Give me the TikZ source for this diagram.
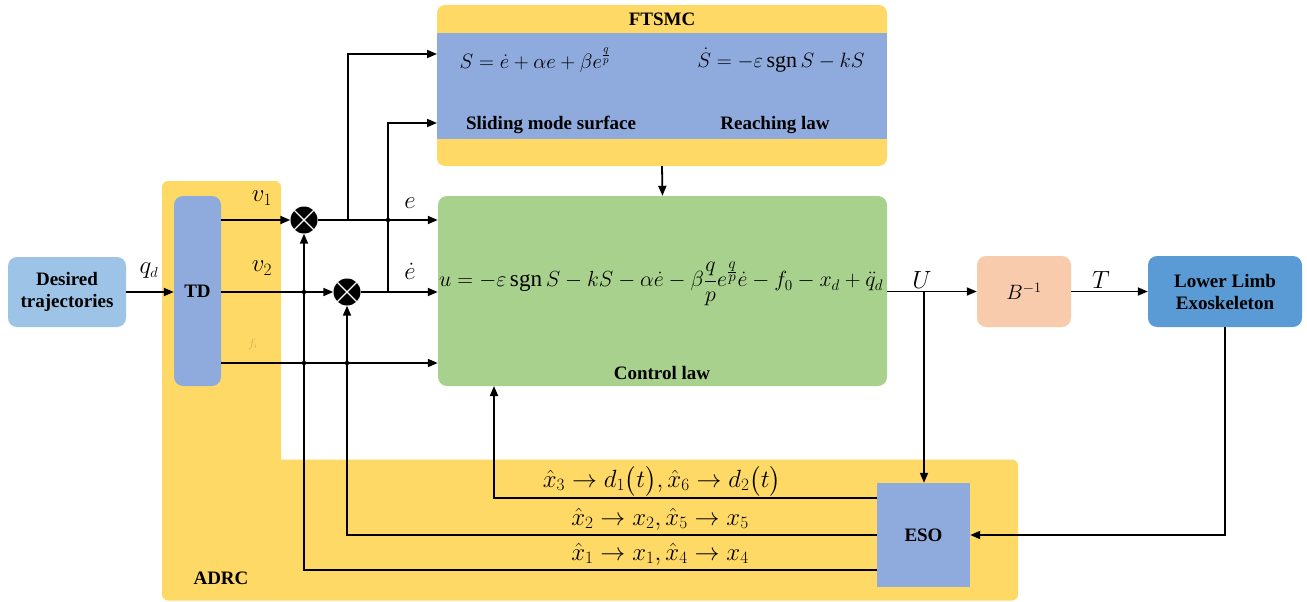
\documentclass[tikz,border=0pt]{standalone}
\usepackage{amsmath}
\usepackage{fontspec}
\setmainfont{Liberation Serif}
\usetikzlibrary{arrows.meta}
\definecolor{ylw}{HTML}{FFD966}
\definecolor{tdblue}{HTML}{8FAADC}
\definecolor{dtblue}{HTML}{9DC3E6}
\definecolor{clgreen}{HTML}{A9D18E}
\definecolor{peach}{HTML}{F8CBAD}
\definecolor{lleblue}{HTML}{5B9BD5}
\begin{document}
\begin{tikzpicture}[x=1pt,y=-1pt,
  arr/.style={line width=1.8pt,-{Triangle[length=10pt,width=8pt]}},
  blk/.style={rounded corners=9pt,inner sep=0pt,draw=none},
  bold/.style={font=\fontsize{19}{22}\selectfont\bfseries,align=center},
  lbl/.style={font=\fontsize{22}{26}\selectfont,inner sep=0pt},
  big/.style={font=\fontsize{27}{30}\selectfont,inner sep=0pt},
  fbl/.style={font=\fontsize{24.5}{28}\selectfont,inner sep=0pt},
  dotj/.style={circle,fill=black,minimum size=4.5pt,inner sep=0pt},
  sumc/.style={circle,fill=black,minimum size=27pt,inner sep=0pt}]
\useasboundingbox (0,0) rectangle (1307,602);
% ADRC region
\node[blk,fill=ylw,minimum width=119pt,minimum height=419pt,rounded corners=6pt] (adrcA) at (221.5,390.5) {};
\node[blk,fill=ylw,minimum width=856pt,minimum height=141pt,rounded corners=6pt] (adrcB) at (590,530) {};
\node[bold,anchor=west] (adrcl) at (190,578) {ADRC};
% FTSMC
\node[blk,fill=ylw,minimum width=450pt,minimum height=161pt,rounded corners=8pt] (ft) at (662,85.5) {};
\fill[tdblue] (437,33) rectangle (887,139);
\node[bold] (ftl) at (662,19) {FTSMC};
\node[lbl] (sf) at (535,60) {$S=\dot e+\alpha e+\beta e^{\frac{q}{p}}$};
\node[lbl] (rl) at (781,60) {$\dot S=-\varepsilon\,\mathrm{sgn}\,S-kS$};
\node[bold] (sml) at (551,125) {Sliding mode surface};
\node[bold] (rll) at (775,125) {Reaching law};
% Control law
\node[blk,fill=clgreen,minimum width=449pt,minimum height=190pt] (cl) at (662.5,291) {};
\node[lbl,anchor=west] (clf) at (439,284) {\resizebox{444pt}{!}{$u=-\varepsilon\,\mathrm{sgn}\,S-kS-\alpha\dot e-\beta\dfrac{q}{p}e^{\frac{\scriptstyle q}{\scriptstyle p}}\dot e-f_0-x_d+\ddot q_d$}};
\node[bold] (cll) at (662,373) {Control law};
% Desired
\node[blk,fill=dtblue,minimum width=118pt,minimum height=70pt,bold] (dt) at (67,292) {Desired\\trajectories};
% TD
\node[blk,fill=tdblue,minimum width=47pt,minimum height=190pt,bold] (td) at (197.5,291) {TD};
% B^-1
\node[blk,fill=peach,minimum width=94pt,minimum height=71pt] (bi) at (1024,291.5) {\fontsize{21}{24}\selectfont$B^{-1}$};
% LLE
\node[blk,fill=lleblue,minimum width=154pt,minimum height=71pt,bold] (lle) at (1225,291.5) {Lower Limb\\Exoskeleton};
% ESO
\node[fill=tdblue,minimum width=93pt,minimum height=104pt,inner sep=0pt,bold] (eso) at (923.5,535) {ESO};
% summing junctions
\node[sumc] (c1) at (304,220) {};
\node[sumc] (c2) at (347,292) {};
\foreach \c in {c1,c2}{
  \draw[white,line width=1.2pt] (\c.45) -- (\c.225) (\c.135) -- (\c.315);}
% coordinates
\coordinate (j1) at (348,220);
\coordinate (fin1) at (437,54);
\coordinate (j2) at (388,292);
\coordinate (fin2) at (437,123);
\coordinate (ju) at (924,292);
\coordinate (y3) at (0,363);
\coordinate (f1) at (877,570);
\coordinate (f2) at (877,535);
\coordinate (f3) at (877,498);
\coordinate (clin) at (494,386);
% connectors
\draw[arr] (dt.east) -- (td.west|-dt.east);
\draw[arr] (td.east|-c1) -- (c1.west);
\draw[arr] (td.east|-c2) -- (c2.west);
\draw[arr] (td.east|-y3) -- (cl.west|-y3);
\draw[arr] (c1.east) -- (cl.west|-c1);
\draw[arr] (c2.east) -- (cl.west|-c2);
\draw[arr] (j1) |- (fin1);
\draw[arr] (j2) |- (fin2);
\draw[arr] (ft.south) -- (cl.north);
\draw[arr] (cl.east|-bi) -- (bi.west);
\draw[arr] (ju) -- (ju|-eso.north);
\draw[arr] (bi.east) -- (lle.west);
\draw[arr] (lle.south) |- (eso.east);
\draw[arr] (f1) -| (c1.south);
\draw[arr] (f2) -| (c2.south);
\draw[arr] (f3) -| (clin);
% junction dots
\node[dotj] (d1) at (388,220) {};
\node[dotj] (d2) at (304,292) {};
\node[dotj] (d3) at (304,363) {};
\node[dotj] (d4) at (347,363) {};
% labels
\node[big] (qd) at (149,271) {$q_{\scriptscriptstyle d}$};
\node[big] (v1) at (262,198) {$v_1$};
\node[big] (v2) at (262,268) {$v_2$};
\node[font=\fontsize{12}{14}\selectfont,text=ylw!70!black,opacity=0.6] (fi) at (253,344) {$f_i$};
\node[big] (el) at (410,203) {$e$};
\node[big] (edl) at (410,271) {$\dot e$};
\node[big] (ul) at (922,280) {$U$};
\node[big] (tl) at (1101,280) {$T$};
\node[fbl] (fb3) at (662,481) {$\hat x_3\rightarrow d_1\bigl(t\bigr),\hat x_6\rightarrow d_2\bigl(t\bigr)$};
\node[fbl] (fb2) at (660,519) {$\hat x_2\rightarrow x_2,\hat x_5\rightarrow x_5$};
\node[fbl] (fb1) at (660,554) {$\hat x_1\rightarrow x_1,\hat x_4\rightarrow x_4$};
\end{tikzpicture}
\end{document}
